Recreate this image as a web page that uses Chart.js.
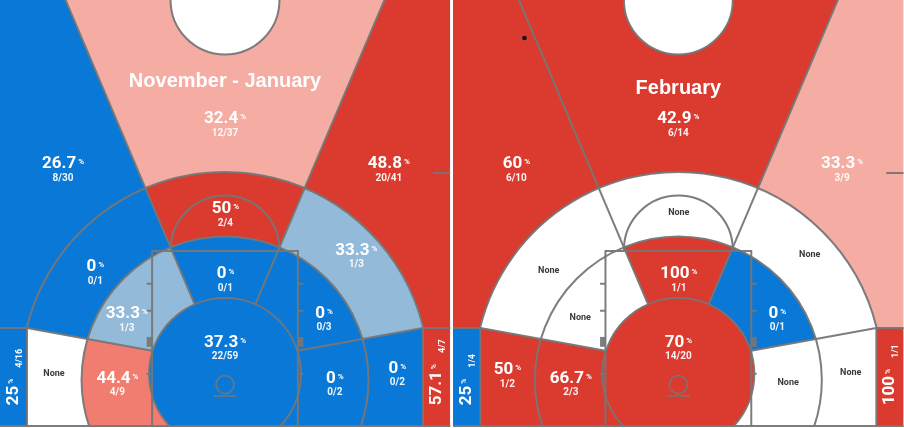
<!DOCTYPE html>
<html>
<head>
<meta charset="utf-8">
<script src="https://cdn.jsdelivr.net/npm/chart.js@4.4.1/dist/chart.umd.min.js"></script>
<style>
  html, body { margin: 0; padding: 0; background: #fff; }
  canvas { display: block; }
</style>
</head>
<body>
<canvas id="court" width="904" height="428"></canvas>
<script>
// zone order: 0 restricted circle, 1-5 inner ring, 6-10 outer mid-range ring, 11-15 three point
// every ring goes left base, left wing, centre, right wing, right base
const periods = ['November - January', 'February'];
const zoneNames = ['Restricted area',
  'Short left base', 'Short left wing', 'Short centre', 'Short right wing', 'Short right base',
  'Long left base', 'Long left wing', 'Long centre', 'Long right wing', 'Long right base',
  'Left corner 3', 'Left wing 3', 'Top 3', 'Right wing 3', 'Right corner 3'];

const madeNovJan = [22, 4, 1, 0, 0, 0, 0, 0, 2, 1, 0, 4, 8, 12, 20, 4];
const attNovJan  = [59, 9, 3, 1, 3, 2, 0, 1, 4, 3, 2, 16, 30, 37, 41, 7];
const madeFeb    = [14, 2, 0, 1, 0, 0, 1, 0, 0, 0, 0, 1, 6, 6, 3, 1];
const attFeb     = [20, 3, 0, 1, 1, 0, 2, 0, 0, 0, 0, 4, 10, 14, 9, 1];

// heat vs league average: -2 cold .. 2 hot, null = no attempts
const heatNovJan = [-2, 1, -1, -2, -2, -2, null, -2, 2, -1, -2, -2, -2, 0, 2, 2];
const heatFeb    = [2, 2, null, 2, -2, null, 2, null, null, null, null, -2, 2, 2, 0, 2];

// stray marker in the february panel (feet, relative to that court)
const markerFeb = [{ x: -17.1, y: 43.1 }];

const heatColors = { '-2': '#0a78d6', '-1': '#93bad8', '0': '#f5aca2', '1': '#f07d6f', '2': '#db3a2f' };
const LINE = 'rgba(118,118,118,0.95)';

// court geometry in feet, baseline at y = 0
const G = {
  halfW: 25.04, top: 47.33,
  c0: { cy: 5.78, r: 8.44 },
  c1: { cy: 5.11, r: 15.94 },
  arc3: { cy: 5.56, r: 22.67 },
  cornerX: 22, cornerTop: 10.89,
  rayY: 5.6, rayAngle: 23,
  sideX: 8.3, sideY: 8.4,
  paint: { hw: 8.1, top: 19.44 },
  ft: { cy: 19.55, r: 6.05 },
  laneTicks: [5.8, 12.8, 15.8], laneBlock: [8.8, 9.9],
  hoop: { cy: 4.6, r: 1.0, board: 3.33 },
  centre: 6.05,
  coach: 28.1
};

const panels = [
  { cx: 0, made: madeNovJan, att: attNovJan, heat: heatNovJan, title: periods[0], titleY: 37.67 },
  { cx: 50.37, made: madeFeb, att: attFeb, heat: heatFeb, title: periods[1], titleY: 36.9 }
];

// label anchors (centre of the percent line), feet relative to court centre
const labelAt = [
  [0, 9.5],
  [-11.95, 5.5], [-10.9, 12.65], [0.05, 17.1], [11.0, 12.7], [12.2, 5.5],
  [-19.0, 6.45], [-14.4, 17.9], [0.05, 24.3], [14.6, 19.7], [19.15, 6.6],
  [-23.5, 2.3], [-18.0, 29.3], [0, 34.3], [18.2, 29.3], [23.52, 2.3]
];

function pct(m, a) {
  return String(Math.round(m / a * 1000) / 10);
}

function intersect(p, d, q, e) {
  const den = d[0] * e[1] - d[1] * e[0];
  const t = ((q[0] - p[0]) * e[1] - (q[1] - p[1]) * e[0]) / den;
  return [p[0] + t * d[0], p[1] + t * d[1]];
}

function sectorPolys() {
  const a = G.rayAngle * Math.PI / 180;
  const O = [0, G.rayY];
  const dL = [-Math.sin(a), Math.cos(a)], dR = [Math.sin(a), Math.cos(a)];
  const AL = [-G.cornerX, G.cornerTop], AR = [G.cornerX, G.cornerTop];
  const BL = [-G.sideX, G.sideY], BR = [G.sideX, G.sideY];
  const XL = intersect(O, dL, AL, [BL[0] - AL[0], BL[1] - AL[1]]);
  const XR = intersect(O, dR, AR, [BR[0] - AR[0], BR[1] - AR[1]]);
  const F = 90;
  const farL = [O[0] + F * dL[0], O[1] + F * dL[1]];
  const farR = [O[0] + F * dR[0], O[1] + F * dR[1]];
  return {
    XL, XR, AL, AR, farL, farR,
    list: [
      [XL, AL, [-F, G.cornerTop], [-F, -F], [XL[0], -F]],
      [XL, AL, [-F, G.cornerTop], [-F, F], farL],
      [XL, farL, farR, XR],
      [XR, AR, [F, G.cornerTop], [F, F], farR],
      [XR, AR, [F, G.cornerTop], [F, -F], [XR[0], -F]]
    ]
  };
}

function drawPanel(ctx, X, Y, k, p) {
  const cx = p.cx;
  const sec = sectorPolys();
  const left = X(cx - G.halfW), right = X(cx + G.halfW), top = Y(G.top), base = Y(0);
  const h3 = Math.sqrt(G.arc3.r ** 2 - G.cornerX ** 2);

  const addRect = q => q.rect(left, top, right - left, base - top);
  const addCircle = (q, c) => {
    q.moveTo(X(cx) + c.r * k, Y(c.cy));
    q.arc(X(cx), Y(c.cy), c.r * k, 0, Math.PI * 2);
  };
  const addThree = q => {
    q.moveTo(X(cx - G.cornerX), Y(-1));
    q.lineTo(X(cx - G.cornerX), Y(G.arc3.cy + h3));
    q.arc(X(cx), Y(G.arc3.cy), G.arc3.r * k, Math.atan2(-h3, -G.cornerX), Math.atan2(-h3, G.cornerX), false);
    q.lineTo(X(cx + G.cornerX), Y(-1));
    q.closePath();
  };
  const addPoly = (q, pts) => {
    pts.forEach((pt, i) => i ? q.lineTo(X(cx + pt[0]), Y(pt[1])) : q.moveTo(X(cx + pt[0]), Y(pt[1])));
    q.closePath();
  };
  const ringPath = r => {
    const q = new Path2D();
    if (r === 0) { addCircle(q, G.c0); return q; }
    if (r === 1) { addCircle(q, G.c1); addCircle(q, G.c0); }
    if (r === 2) { addThree(q); addCircle(q, G.c1); }
    if (r === 3) { addRect(q); addThree(q); }
    return q;
  };
  const court = new Path2D(); addRect(court);

  const fillZone = z => {
    const r = z === 0 ? 0 : Math.ceil(z / 5);
    ctx.save();
    ctx.clip(court);
    ctx.clip(ringPath(r), 'evenodd');
    if (z > 0) { const sp = new Path2D(); addPoly(sp, sec.list[(z - 1) % 5]); ctx.clip(sp); }
    const lvl = p.att[z] ? p.heat[z] : null;
    ctx.fillStyle = lvl === null ? '#ffffff' : heatColors[String(lvl)];
    ctx.fillRect(left, top, right - left, base - top);
    ctx.restore();
  };
  const seg = (a, b) => {
    ctx.beginPath();
    ctx.moveTo(X(cx + a[0]), Y(a[1]));
    ctx.lineTo(X(cx + b[0]), Y(b[1]));
    ctx.stroke();
  };

  for (let z = 1; z < 16; z++) fillZone(z);

  ctx.save();
  ctx.clip(court);
  ctx.strokeStyle = LINE; ctx.lineWidth = 2;
  seg(sec.XL, sec.AL); seg(sec.AL, [-G.halfW - 1, G.cornerTop]);
  seg(sec.XR, sec.AR); seg(sec.AR, [G.halfW + 1, G.cornerTop]);
  seg(sec.XL, sec.farL); seg(sec.XR, sec.farR);
  ctx.restore();

  fillZone(0);

  ctx.save();
  ctx.clip(court);
  ctx.strokeStyle = LINE; ctx.lineWidth = 2;
  [G.c0, G.c1].forEach(c => {
    ctx.beginPath(); ctx.arc(X(cx), Y(c.cy), c.r * k, 0, Math.PI * 2); ctx.stroke();
  });
  ctx.beginPath();
  ctx.moveTo(X(cx - G.cornerX), Y(-1));
  ctx.lineTo(X(cx - G.cornerX), Y(G.arc3.cy + h3));
  ctx.arc(X(cx), Y(G.arc3.cy), G.arc3.r * k, Math.atan2(-h3, -G.cornerX), Math.atan2(-h3, G.cornerX), false);
  ctx.lineTo(X(cx + G.cornerX), Y(-1));
  ctx.stroke();

  // paint, free throw half circle, lane marks
  const hw = G.paint.hw;
  ctx.beginPath();
  ctx.moveTo(X(cx - hw), Y(-1)); ctx.lineTo(X(cx - hw), Y(G.paint.top));
  ctx.lineTo(X(cx + hw), Y(G.paint.top)); ctx.lineTo(X(cx + hw), Y(-1));
  ctx.stroke();
  ctx.beginPath(); ctx.arc(X(cx), Y(G.ft.cy), G.ft.r * k, Math.PI, Math.PI * 2); ctx.stroke();
  ctx.fillStyle = LINE;
  [-1, 1].forEach(s => {
    G.laneTicks.forEach(t => seg([s * hw, t], [s * (hw + 0.6), t]));
    const xa = X(cx + s * hw), xb = X(cx + s * (hw + 0.6));
    ctx.fillRect(Math.min(xa, xb), Y(G.laneBlock[1]), Math.abs(xb - xa), Y(G.laneBlock[0]) - Y(G.laneBlock[1]));
  });

  // hoop and backboard
  ctx.lineWidth = 1.6;
  ctx.beginPath(); ctx.arc(X(cx), Y(G.hoop.cy), G.hoop.r * k, 0, Math.PI * 2); ctx.stroke();
  seg([-1.3, G.hoop.board], [1.3, G.hoop.board]);

  // centre circle and coach box mark
  ctx.lineWidth = 2;
  ctx.beginPath(); ctx.arc(X(cx), Y(G.top), G.centre * k, 0, Math.PI * 2);
  ctx.fillStyle = '#ffffff'; ctx.fill(); ctx.stroke();
  seg([23.1, G.coach], [G.halfW, G.coach]);
  ctx.restore();

  ctx.strokeStyle = LINE; ctx.lineWidth = 2;
  seg([-G.halfW, 0], [G.halfW, 0]);

  // zone labels
  for (let z = 0; z < 16; z++) {
    const lx = X(cx + labelAt[z][0]), ly = Y(labelAt[z][1]);
    const corner = z === 11 || z === 15;
    ctx.textAlign = 'left'; ctx.textBaseline = 'alphabetic';
    if (!p.att[z]) {
      ctx.fillStyle = '#3a3a3a'; ctx.font = 'bold 9px Roboto'; ctx.textAlign = 'center';
      ctx.fillText('None', lx, ly + 5 + 3.2);
      continue;
    }
    const v = pct(p.made[z], p.att[z]);
    const frac = p.made[z] + '/' + p.att[z];
    ctx.fillStyle = '#ffffff';
    if (corner) {
      ctx.save();
      ctx.translate(lx, ly);
      ctx.rotate(-Math.PI / 2);
      ctx.font = 'bold 17px Roboto';
      const w1 = ctx.measureText(v).width;
      ctx.fillText(v, 0, -2 + 6);
      ctx.font = 'bold 7px Roboto';
      const w2 = ctx.measureText('%').width;
      ctx.fillText('%', w1 + 2, -2 + 1.5);
      ctx.font = 'bold 9px Roboto';
      ctx.fillText(frac, w1 + 2 + w2 + 11, 5 + 3.2);
      ctx.restore();
    } else {
      ctx.font = 'bold 17px Roboto';
      const w1 = ctx.measureText(v).width;
      ctx.font = 'bold 8px Roboto';
      const w2 = ctx.measureText('%').width;
      const start = lx - (w1 + 2 + w2) / 2;
      ctx.font = 'bold 17px Roboto';
      ctx.fillText(v, start, ly + 6);
      ctx.font = 'bold 8px Roboto';
      ctx.fillText('%', start + w1 + 2, ly + 2);
      ctx.font = 'bold 10px Roboto'; ctx.textAlign = 'center';
      ctx.fillStyle = 'rgba(255,255,255,0.93)';
      ctx.fillText(frac, lx, ly + 15 + 3.6);
    }
  }

  ctx.fillStyle = '#ffffff';
  ctx.font = 'bold 20px "Liberation Sans", Arial, sans-serif';
  ctx.textAlign = 'center'; ctx.textBaseline = 'alphabetic';
  ctx.fillText(p.title, X(cx), Y(p.titleY));
}

const zonePlugin = {
  id: 'shotZones',
  beforeDatasetsDraw(chart) {
    const sx = chart.scales.x, sy = chart.scales.y;
    const X = v => sx.getPixelForValue(v);
    const Y = v => sy.getPixelForValue(v);
    const k = X(1) - X(0);
    panels.forEach(p => drawPanel(chart.ctx, X, Y, k, p));
  }
};

new Chart(document.getElementById('court'), {
  type: 'scatter',
  data: {
    datasets: [{
      data: markerFeb.map(m => ({ x: m.x + panels[1].cx, y: m.y })),
      pointRadius: 2.3,
      backgroundColor: '#111111',
      borderWidth: 0,
      clip: false
    }]
  },
  options: {
    responsive: false,
    animation: false,
    devicePixelRatio: 1,
    layout: { padding: 0, autoPadding: false },
    plugins: { legend: { display: false }, tooltip: { enabled: false } },
    scales: {
      x: { type: 'linear', min: -25, max: 75.44, display: false },
      y: { type: 'linear', min: -0.22, max: 47.33, display: false }
    }
  },
  plugins: [zonePlugin]
});
</script>
</body>
</html>
